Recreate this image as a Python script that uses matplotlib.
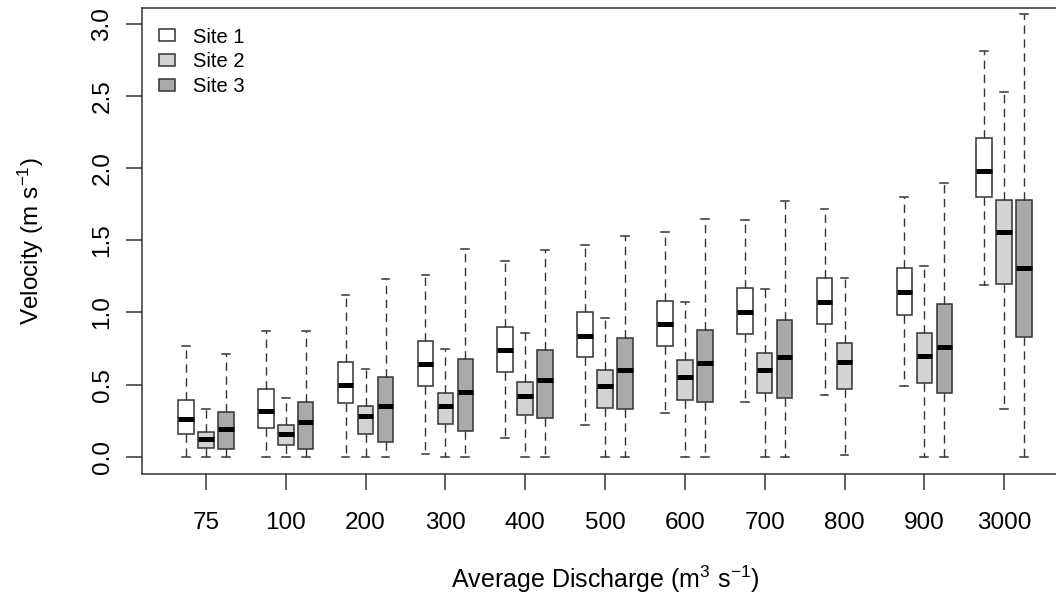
import matplotlib
matplotlib.use('Agg')
import matplotlib.pyplot as plt
from matplotlib.patches import Patch

plt.rcParams['font.family'] = ['Liberation Sans', 'DejaVu Sans']
plt.rcParams['mathtext.fontset'] = 'custom'
plt.rcParams['mathtext.rm'] = 'Liberation Sans'
plt.rcParams['mathtext.it'] = 'Liberation Sans'

# Discharge classes (m3 s-1)
discharge = ['75', '100', '200', '300', '400', '500', '600', '700', '800', '900', '3000']
sites = ['Site 1', 'Site 2', 'Site 3']
site_colors = ['#FFFFFF', '#D3D3D3', '#A9A9A9']

# Box statistics (velocity, m s-1)
s1_lo = [0.00, 0.00, 0.00, 0.02, 0.13, 0.22, 0.30, 0.38, 0.43, 0.49, 1.19]
s1_q1 = [0.16, 0.20, 0.37, 0.49, 0.59, 0.69, 0.77, 0.85, 0.92, 0.98, 1.80]
s1_md = [0.26, 0.32, 0.50, 0.64, 0.74, 0.84, 0.92, 1.00, 1.07, 1.14, 1.98]
s1_q3 = [0.39, 0.47, 0.66, 0.80, 0.90, 1.00, 1.08, 1.17, 1.24, 1.31, 2.21]
s1_hi = [0.77, 0.87, 1.12, 1.26, 1.36, 1.47, 1.56, 1.64, 1.72, 1.80, 2.81]

s2_lo = [0.00, 0.00, 0.00, 0.00, 0.00, 0.00, 0.00, 0.00, 0.01, 0.00, 0.33]
s2_q1 = [0.06, 0.08, 0.16, 0.23, 0.29, 0.34, 0.39, 0.44, 0.47, 0.51, 1.20]
s2_md = [0.12, 0.16, 0.28, 0.35, 0.42, 0.49, 0.55, 0.60, 0.66, 0.70, 1.56]
s2_q3 = [0.17, 0.22, 0.35, 0.44, 0.52, 0.60, 0.67, 0.72, 0.79, 0.86, 1.78]
s2_hi = [0.33, 0.41, 0.61, 0.75, 0.86, 0.96, 1.07, 1.16, 1.24, 1.32, 2.53]

# no Site 3 data at 800
s3_lo = [0.00, 0.00, 0.00, 0.00, 0.00, 0.00, 0.00, 0.00, None, 0.00, 0.00]
s3_q1 = [0.05, 0.05, 0.10, 0.18, 0.27, 0.33, 0.38, 0.41, None, 0.44, 0.83]
s3_md = [0.19, 0.24, 0.35, 0.45, 0.53, 0.60, 0.65, 0.69, None, 0.76, 1.31]
s3_q3 = [0.31, 0.38, 0.55, 0.68, 0.74, 0.82, 0.88, 0.95, None, 1.06, 1.78]
s3_hi = [0.71, 0.87, 1.23, 1.44, 1.43, 1.53, 1.65, 1.77, None, 1.90, 3.07]

site_stats = [
    (s1_lo, s1_q1, s1_md, s1_q3, s1_hi),
    (s2_lo, s2_q1, s2_md, s2_q3, s2_hi),
    (s3_lo, s3_q1, s3_md, s3_q3, s3_hi),
]

fig = plt.figure(figsize=(10.56, 5.98), dpi=100)
# right edge of the plot box falls just outside the picture, as in the original
ax = fig.add_axes([0.1345, 0.2074, 0.8769, 0.7793])

edge = '#333333'
for k, (lo, q1, md, q3, hi) in enumerate(site_stats):
    stats, pos = [], []
    for g in range(len(discharge)):
        if md[g] is None:
            continue
        stats.append(dict(whislo=lo[g], q1=q1[g], med=md[g], q3=q3[g], whishi=hi[g], fliers=[]))
        pos.append(4 * g + 2 + (k - 1))
    ax.bxp(stats, positions=pos, widths=0.78, patch_artist=True, showfliers=False,
           boxprops=dict(facecolor=site_colors[k], edgecolor=edge, linewidth=1.1),
           medianprops=dict(color='black', linewidth=3.6, solid_capstyle='butt'),
           whiskerprops=dict(color=edge, linewidth=1.0, linestyle=(0, (6, 4))),
           capprops=dict(color=edge, linewidth=1.1))

ax.set_xlim(-1.2, 45.2)
ax.set_ylim(-0.12, 3.112)
ax.set_xticks([4 * g + 2 for g in range(len(discharge))])
ax.set_xticklabels(discharge)
ax.set_yticks([0, 0.5, 1.0, 1.5, 2.0, 2.5, 3.0])
ax.set_yticklabels(['0.0', '0.5', '1.0', '1.5', '2.0', '2.5', '3.0'], rotation=90, va='center')

for s in ax.spines.values():
    s.set_color(edge)
    s.set_linewidth(1.1)

ax.tick_params(axis='x', length=11.5, width=1.1, color=edge, pad=16, labelsize=17.5)
ax.tick_params(axis='y', length=11.5, width=1.1, color=edge, pad=9, labelsize=17.5)

ax.set_xlabel('Average Discharge (m$^{3}$ s$^{-1}$)', fontsize=18, labelpad=21)
ax.set_ylabel('Velocity (m s$^{-1}$)', fontsize=17.5, labelpad=33)

handles = [Patch(facecolor=c, edgecolor=edge, linewidth=1.1) for c in site_colors]
ax.legend(handles, sites, loc='upper left', bbox_to_anchor=(0.018, 0.958), frameon=False,
          fontsize=14.5, handlelength=0.8, handleheight=0.55, handletextpad=0.9,
          labelspacing=0.28, borderpad=0, borderaxespad=0)

fig.savefig('out.png', dpi=100)
